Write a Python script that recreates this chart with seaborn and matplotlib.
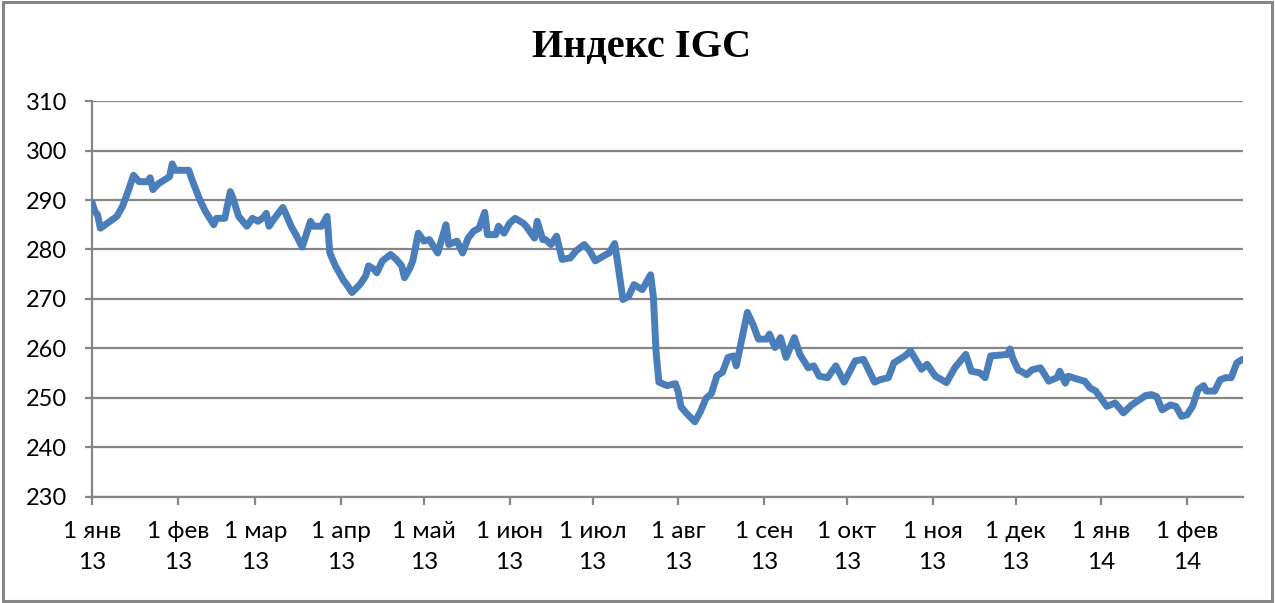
import matplotlib
matplotlib.use("Agg")
import matplotlib.pyplot as plt
import pandas as pd
import seaborn as sns
from matplotlib.patches import Rectangle

START = "2013-01-01"

# days since 1 Jan 2013 and index value
DAYS = [
    0, 1, 2, 3, 9, 11, 13, 15, 17, 20, 21, 22, 24, 28, 29, 30, 32, 35, 36, 39,
    41, 44, 45, 48, 50, 51, 53, 56, 58, 60, 62, 63, 64, 66, 69, 70, 72, 74, 76, 79,
    80, 83, 85, 86, 88, 91, 92, 94, 97, 99, 100, 102, 103, 105, 108, 110, 112, 113, 115, 116,
    118, 120, 122, 125, 128, 129, 132, 134, 136, 138, 140, 142, 143, 146, 147, 149, 151, 153, 156, 157,
    160, 161, 163, 164, 166, 168, 170, 173, 175, 178, 180, 182, 185, 187, 189, 190, 192, 194, 196, 199,
    202, 203, 204, 205, 208, 211, 212, 213, 215, 218, 220, 222, 224, 226, 228, 230, 232, 233, 235, 237,
    239, 241, 244, 245, 247, 249, 251, 254, 256, 259, 261, 263, 266, 269, 272, 276, 279, 283, 285, 288,
    290, 294, 296, 300, 302, 305, 306, 309, 312, 316, 318, 321, 323, 325, 331, 332, 333, 335, 336, 338,
    340, 343, 346, 349, 350, 352, 353, 357, 359, 361, 363, 367, 370, 373, 376, 379, 381, 383, 385, 387,
    390, 392, 394, 396, 398, 400, 402, 403, 406, 408, 410, 412, 414, 416,
]
VALUES = [
    289.5, 287.7, 287.0, 284.3, 286.7, 288.7, 291.7, 295.0, 293.7, 293.7, 294.5, 292.1, 293.3, 294.7, 297.3, 296.0, 296.0, 296.0, 294.3, 290.0,
    287.7, 285.0, 286.3, 286.3, 291.7, 290.3, 286.7, 284.7, 286.3, 285.7, 286.5, 287.3, 284.7, 286.3, 288.5, 287.3, 284.7, 282.7, 280.5, 285.7,
    284.7, 284.7, 286.7, 279.3, 276.7, 273.7, 273.0, 271.3, 273.0, 274.7, 276.7, 276.0, 275.3, 277.7, 279.0, 278.0, 276.7, 274.3, 276.3, 277.7,
    283.3, 281.7, 282.0, 279.3, 285.0, 281.0, 281.7, 279.3, 282.3, 283.7, 284.3, 287.5, 283.0, 283.0, 284.7, 283.3, 285.3, 286.3, 285.3, 284.7,
    282.3, 285.7, 282.0, 282.0, 281.0, 282.7, 278.0, 278.3, 279.7, 281.0, 279.7, 277.7, 278.7, 279.3, 281.2, 277.7, 269.9, 270.5, 272.9, 271.9,
    274.9, 270.5, 259.2, 253.2, 252.5, 252.9, 251.2, 248.2, 246.9, 245.2, 247.2, 249.9, 250.9, 254.5, 255.2, 258.2, 258.5, 256.5, 261.9, 267.3,
    264.9, 261.9, 261.9, 262.9, 260.2, 262.2, 258.2, 262.2, 258.8, 256.1, 256.5, 254.4, 254.1, 256.5, 253.2, 257.5, 257.8, 253.2, 253.7, 254.1,
    257.1, 258.5, 259.5, 255.8, 256.8, 254.4, 254.1, 253.1, 256.1, 258.8, 255.4, 255.1, 254.1, 258.5, 258.8, 259.9, 258.0, 255.6, 255.4, 254.7,
    255.7, 256.1, 253.4, 254.1, 255.4, 253.0, 254.4, 253.7, 253.4, 252.0, 251.4, 248.3, 249.0, 247.0, 248.6, 249.7, 250.5, 250.7, 250.3, 247.6,
    248.6, 248.3, 246.3, 246.6, 248.3, 251.7, 252.5, 251.4, 251.4, 253.7, 254.1, 254.1, 257.1, 257.8,
]

TICK_DATES = pd.date_range("2013-01-01", "2014-02-01", freq="MS")
TICK_LABELS = [
    "1 янв\n13", "1 фев\n13", "1 мар\n13", "1 апр\n13", "1 май\n13", "1 июн\n13", "1 июл\n13",
    "1 авг\n13", "1 сен\n13", "1 окт\n13", "1 ноя\n13", "1 дек\n13", "1 янв\n14", "1 фев\n14",
]
Y_TICKS = [230, 240, 250, 260, 270, 280, 290, 300, 310]
TITLE = "Индекс IGC"

GRID = "#868686"
LINE = "#4a7ebb"

sns.set_theme(style="white")
plt.rcParams["font.family"] = ["Lato", "DejaVu Sans"]

df = pd.DataFrame({
    "date": pd.Timestamp(START) + pd.to_timedelta(DAYS, unit="D"),
    "value": VALUES,
})

fig = plt.figure(figsize=(12.75, 6.03), dpi=100)
ax = fig.add_axes([0.0722, 0.1758, 0.9028, 0.6567])

sns.lineplot(data=df, x="date", y="value", ax=ax, color=LINE, linewidth=5.0, zorder=3)

ax.set_xlim(pd.Timestamp(START), pd.Timestamp(START) + pd.Timedelta(days=416.3))
ax.set_ylim(230, 310)
ax.set_yticks(Y_TICKS)
ax.set_xticks(TICK_DATES)
ax.set_xticklabels(TICK_LABELS, linespacing=1.6)
ax.set_xlabel("")
ax.set_ylabel("")

ax.yaxis.grid(True, color=GRID, linewidth=1.6)
ax.xaxis.grid(False)
for side in ["top", "right"]:
    ax.spines[side].set_visible(False)
for side in ["left", "bottom"]:
    ax.spines[side].set_color(GRID)
    ax.spines[side].set_linewidth(1.6)

ax.tick_params(axis="x", direction="out", length=6, width=1.6, color=GRID,
               pad=11, labelsize=17.5, labelcolor="black", bottom=True)
ax.tick_params(axis="y", direction="out", length=5, width=1.6, color=GRID,
               pad=13, labelsize=17, labelcolor="black", left=True)

fig.text(0.503, 0.921, TITLE, ha="center", va="center", fontsize=29,
         fontweight="bold", color="black", family=["Liberation Serif", "DejaVu Serif"])

fig.patches.append(Rectangle((0.002, 0.003), 0.996, 0.994, transform=fig.transFigure,
                             fill=False, edgecolor=GRID, linewidth=2.2))

fig.savefig("out.png", dpi=100)
